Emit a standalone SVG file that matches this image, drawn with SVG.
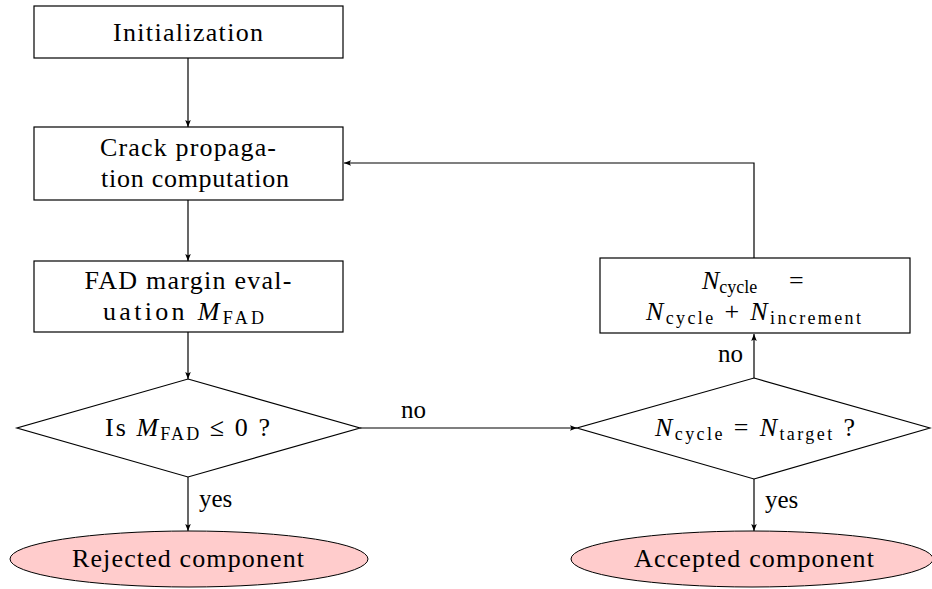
<svg xmlns="http://www.w3.org/2000/svg" width="932" height="589" viewBox="0 0 932 589">
<style>
.box{fill:#fff;stroke:#000;stroke-width:1.2}
.term{fill:#ffcccc;stroke:#000;stroke-width:1}
.t{font-family:"Liberation Serif","DejaVu Serif",serif;font-size:26px;fill:#000}
.lbl{font-family:"Liberation Serif","DejaVu Serif",serif;font-size:25px;fill:#000}
.it{font-style:italic}
.sub{font-size:18px}
.conn{fill:none;stroke:#000;stroke-width:1.2}
</style>
<defs>
<marker id="ah" viewBox="0 0 10 10" refX="10" refY="5" markerWidth="7" markerHeight="7" markerUnits="userSpaceOnUse" orient="auto">
<path d="M0,1 L10,5 L0,9 L2,5 Z" fill="#000"/>
</marker>
</defs>
<g id="connectors">
<line class="conn" x1="188" y1="58" x2="188" y2="127" marker-end="url(#ah)"/>
<line class="conn" x1="188" y1="200" x2="188" y2="261" marker-end="url(#ah)"/>
<line class="conn" x1="188" y1="332" x2="188" y2="379" marker-end="url(#ah)"/>
<line class="conn" x1="188" y1="477" x2="188" y2="531" marker-end="url(#ah)"/>
<line class="conn" x1="360" y1="428" x2="577" y2="428" marker-end="url(#ah)"/>
<line class="conn" x1="754" y1="378" x2="754" y2="334" marker-end="url(#ah)"/>
<line class="conn" x1="754" y1="479" x2="754" y2="531" marker-end="url(#ah)"/>
<polyline class="conn" points="754,258 754,163 344,163" marker-end="url(#ah)"/>
<text class="lbl" x="199" y="507">yes</text>
<text class="lbl" x="401" y="418">no</text>
<text class="lbl" x="718" y="362">no</text>
<text class="lbl" x="765" y="508">yes</text>
</g>
<g id="init">
<rect class="box" x="34" y="6" width="309" height="52"/>
<text class="t" x="188" y="40.5" text-anchor="middle" textLength="150" lengthAdjust="spacing">Initialization</text>
</g>
<g id="crack">
<rect class="box" x="34" y="127" width="309" height="73"/>
<text class="t" x="188" y="155.5" text-anchor="middle" textLength="176" lengthAdjust="spacing">Crack propaga-</text>
<text class="t" x="195" y="186.5" text-anchor="middle" textLength="188" lengthAdjust="spacing">tion computation</text>
</g>
<g id="fad">
<rect class="box" x="34" y="261" width="309" height="71"/>
<text class="t" x="188" y="288.5" text-anchor="middle" textLength="207" lengthAdjust="spacing">FAD margin eval-</text>
<text class="t" x="103" y="320" textLength="161" lengthAdjust="spacing">uation <tspan class="it">M</tspan><tspan class="sub" dy="4">FAD</tspan></text>
</g>
<g id="decision1">
<polygon class="box" points="188,379 360,428 188,477 17,428"/>
<text class="t" x="105" y="436" textLength="165" lengthAdjust="spacing">Is <tspan class="it">M</tspan><tspan class="sub" dy="4">FAD</tspan><tspan dy="-4"> ≤ 0 ?</tspan></text>
</g>
<g id="rejected">
<ellipse class="term" cx="189" cy="559" rx="179" ry="28"/>
<text class="t" x="188" y="566.5" text-anchor="middle" textLength="232" lengthAdjust="spacing">Rejected component</text>
</g>
<g id="update">
<rect class="box" x="600" y="258" width="310" height="75"/>
<text class="t" x="702" y="288.5"><tspan class="it">N</tspan><tspan class="sub" dy="4">cycle</tspan><tspan dy="-4" x="789">=</tspan></text>
<text class="t" x="646" y="320" textLength="215" lengthAdjust="spacing"><tspan class="it">N</tspan><tspan class="sub" dy="4">cycle</tspan><tspan dy="-4"> + </tspan><tspan class="it">N</tspan><tspan class="sub" dy="4">increment</tspan></text>
</g>
<g id="decision2">
<polygon class="box" points="754,378 930,428 754,479 577,428"/>
<text class="t" x="655" y="435.5" textLength="200" lengthAdjust="spacing"><tspan class="it">N</tspan><tspan class="sub" dy="4">cycle</tspan><tspan dy="-4"> = </tspan><tspan class="it">N</tspan><tspan class="sub" dy="4">target</tspan><tspan dy="-4"> ?</tspan></text>
</g>
<g id="accepted">
<ellipse class="term" cx="752" cy="559" rx="181" ry="28"/>
<text class="t" x="754" y="566.5" text-anchor="middle" textLength="240" lengthAdjust="spacing">Accepted component</text>
</g>
</svg>
